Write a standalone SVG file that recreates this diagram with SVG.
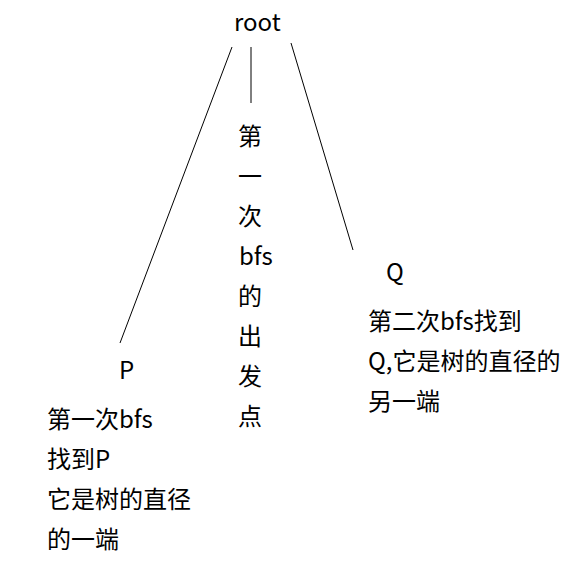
<svg xmlns="http://www.w3.org/2000/svg" width="583" height="562" viewBox="0 0 583 562">
<style>
text{font-family:"Noto Sans CJK SC","Microsoft YaHei",sans-serif;font-size:24px;fill:#000}
.c line{stroke:#000;stroke-width:1}
</style>
<rect width="583" height="562" fill="#fff"/>
<g class="c" id="connectors">
<line x1="232" y1="47" x2="120" y2="343"/>
<line x1="251" y1="47" x2="251" y2="103"/>
<line x1="291" y1="43" x2="353" y2="250"/>
</g>
<g id="root"><text x="234" y="31">root</text></g>
<g id="first-bfs">
<text x="238" y="145">第</text>
<text x="238" y="185">一</text>
<text x="238" y="225">次</text>
<text x="239" y="265">bfs</text>
<text x="238" y="305">的</text>
<text x="238" y="345">出</text>
<text x="238" y="385">发</text>
<text x="238" y="425">点</text>
</g>
<g id="P">
<text x="119" y="379">P</text>
<text x="47" y="428">第一次bfs</text>
<text x="47" y="468">找到P</text>
<text x="47" y="508">它是树的直径</text>
<text x="47" y="548">的一端</text>
</g>
<g id="Q">
<text x="386" y="281">Q</text>
<text x="368" y="330">第二次bfs找到</text>
<text x="368" y="370">Q,它是树的直径的</text>
<text x="368" y="410">另一端</text>
</g>
</svg>
